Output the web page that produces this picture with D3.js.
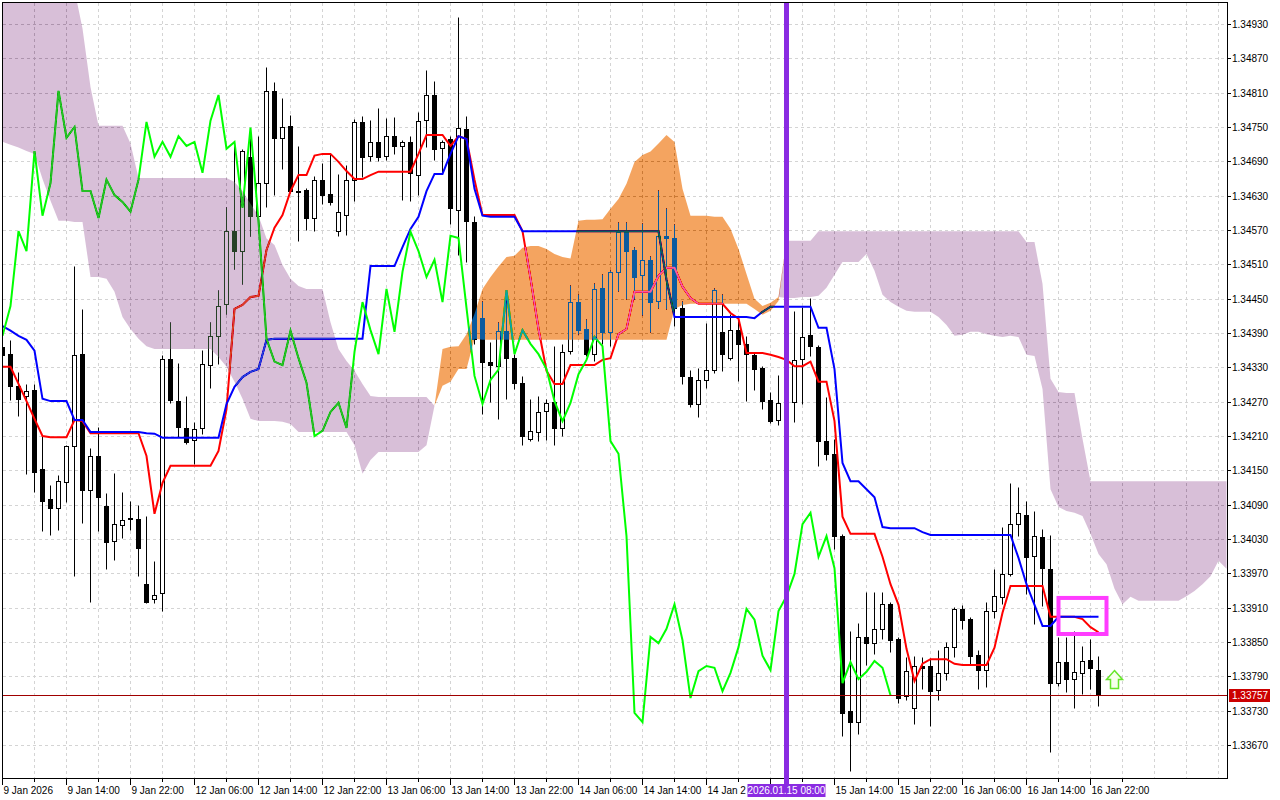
<!DOCTYPE html>
<html><head><meta charset="utf-8">
<script src="https://cdn.jsdelivr.net/npm/d3@7"></script>
<style>html,body{margin:0;padding:0;background:#fff;}svg{display:block;font-family:"Liberation Sans",Arial,sans-serif;}</style>
</head><body>
<svg id="chart" width="1280" height="800"></svg>
<script>
// ---- data (H1 candles, bar 0 = 9 Jan 2026 06:00) ----
const opens = [1.34366,1.34353,1.34297,1.34280,1.34290,1.34152,1.34100,1.34084,1.34130,1.34193,
1.34353,1.34116,1.34175,1.34088,1.34027,1.34055,1.34065,1.34065,1.33951,1.33925,
1.33936,1.34345,1.34271,1.34224,1.34203,1.34224,1.34334,1.34385,1.34441,1.34568,
1.34533,1.34698,1.34595,1.34652,1.34813,1.34731,1.34752,1.34637,1.34640,1.34591,
1.34658,1.34633,1.34568,1.34596,1.34658,1.34759,1.34700,1.34724,1.34700,1.34734,
1.34717,1.34724,1.34666,1.34762,1.34806,1.34714,1.34729,1.34605,1.34747,1.34584,
1.34416,1.34340,1.34332,1.34394,1.34346,1.34303,1.34205,1.34217,1.34254,1.34270,
1.34224,1.34359,1.34444,1.34397,1.34353,1.34469,1.34392,1.34497,1.34567,1.34535,
1.34492,1.34518,1.34446,1.34560,1.34556,1.34434,1.34313,1.34266,1.34308,1.34326,
1.34392,1.34346,1.34395,1.34371,1.34352,1.34329,1.34273,1.34238,1.34268,1.34270,
1.34345,1.34387,1.34366,1.34201,1.34179,1.34035,1.33729,1.33710,1.33859,1.33848,
1.33873,1.33916,1.33855,1.33756,1.33735,1.33808,1.33808,1.33766,1.33796,1.33841,
1.33908,1.33890,1.33827,1.33801,1.33904,1.33929,1.33969,1.34056,1.34072,1.34000,
1.34034,1.33978,1.33778,1.33815,1.33785,1.33796,1.33819,1.33801];
const highs = [1.34388,1.34378,1.34322,1.34301,1.34301,1.34210,1.34124,1.34142,1.34194,1.34507,
1.34432,1.34189,1.34226,1.34110,1.34145,1.34112,1.34096,1.34090,1.34070,1.33992,
1.34352,1.34409,1.34338,1.34280,1.34235,1.34361,1.34409,1.34465,1.34610,1.34724,
1.34712,1.34747,1.34734,1.34855,1.34829,1.34801,1.34771,1.34717,1.34644,1.34665,
1.34687,1.34703,1.34668,1.34684,1.34764,1.34770,1.34762,1.34783,1.34766,1.34768,
1.34727,1.34734,1.34776,1.34850,1.34831,1.34727,1.34734,1.34943,1.34770,1.34595,
1.34446,1.34374,1.34409,1.34450,1.34353,1.34315,1.34275,1.34280,1.34275,1.34367,
1.34371,1.34474,1.34458,1.34415,1.34478,1.34493,1.34500,1.34584,1.34584,1.34540,
1.34582,1.34525,1.34640,1.34609,1.34581,1.34446,1.34326,1.34329,1.34408,1.34469,
1.34458,1.34423,1.34415,1.34385,1.34355,1.34332,1.34287,1.34317,1.34345,1.34429,
1.34436,1.34451,1.34369,1.34278,1.34205,1.34039,1.33869,1.33883,1.33937,1.33937,
1.33937,1.33920,1.33859,1.33824,1.33826,1.33824,1.33822,1.33836,1.33850,1.33911,
1.33915,1.33894,1.33836,1.33920,1.33978,1.34051,1.34128,1.34121,1.34096,1.34079,
1.34048,1.34037,1.33859,1.33859,1.33869,1.33843,1.33855,1.33826];
const lows = [1.34318,1.34273,1.34245,1.34144,1.34112,1.34044,1.34037,1.34046,1.34095,1.33965,
1.34058,1.33920,1.34044,1.33978,1.33993,1.34032,1.34046,1.33965,1.33918,1.33918,
1.33904,1.34268,1.34208,1.34196,1.34161,1.34214,1.34294,1.34336,1.34423,1.34502,
1.34476,1.34560,1.34589,1.34610,1.34631,1.34677,1.34635,1.34551,1.34570,1.34568,
1.34616,1.34614,1.34560,1.34561,1.34621,1.34663,1.34691,1.34691,1.34693,1.34703,
1.34623,1.34621,1.34631,1.34715,1.34693,1.34672,1.34581,1.34527,1.34514,1.34371,
1.34249,1.34270,1.34240,1.34275,1.34292,1.34194,1.34201,1.34201,1.34203,1.34194,
1.34210,1.34353,1.34388,1.34350,1.34341,1.34371,1.34367,1.34464,1.34450,1.34450,
1.34422,1.34392,1.34434,1.34432,1.34402,1.34301,1.34261,1.34243,1.34294,1.34320,
1.34324,1.34343,1.34306,1.34271,1.34290,1.34257,1.34233,1.34229,1.34249,1.34235,
1.34266,1.34350,1.34158,1.34168,1.34013,1.33686,1.33625,1.33689,1.33810,1.33829,
1.33855,1.33833,1.33743,1.33749,1.33707,1.33768,1.33703,1.33749,1.33784,1.33824,
1.33873,1.33812,1.33768,1.33771,1.33892,1.33916,1.33965,1.34035,1.33934,1.33882,
1.33913,1.33658,1.33773,1.33763,1.33735,1.33759,1.33768,1.33738];
const closes = [1.34352,1.34297,1.34275,1.34289,1.34147,1.34096,1.34084,1.34131,1.34193,1.34352,
1.34116,1.34175,1.34103,1.34025,1.34056,1.34063,1.34066,1.34014,1.33920,1.33932,
1.34345,1.34273,1.34226,1.34200,1.34222,1.34336,1.34385,1.34437,1.34568,1.34533,
1.34708,1.34595,1.34652,1.34813,1.34731,1.34750,1.34638,1.34638,1.34591,1.34658,
1.34631,1.34619,1.34602,1.34658,1.34759,1.34698,1.34724,1.34698,1.34734,1.34717,
1.34724,1.34670,1.34761,1.34806,1.34712,1.34724,1.34609,1.34749,1.34586,1.34380,
1.34340,1.34334,1.34394,1.34346,1.34303,1.34210,1.34219,1.34252,1.34268,1.34224,
1.34357,1.34444,1.34395,1.34353,1.34467,1.34392,1.34497,1.34567,1.34533,1.34488,
1.34518,1.34444,1.34560,1.34556,1.34434,1.34315,1.34266,1.34308,1.34326,1.34465,
1.34353,1.34395,1.34371,1.34353,1.34327,1.34271,1.34236,1.34268,1.34318,1.34343,
1.34383,1.34367,1.34201,1.34179,1.34035,1.33726,1.33710,1.33859,1.33848,1.33873,
1.33916,1.33853,1.33752,1.33799,1.33808,1.33805,1.33764,1.33796,1.33841,1.33908,
1.33889,1.33826,1.33801,1.33904,1.33930,1.33969,1.34056,1.34076,1.33999,1.34035,
1.33979,1.33778,1.33815,1.33785,1.33798,1.33817,1.33805,1.33757];
// Ichimoku lines
const tenkan = [1.34331,1.34331,1.34301,1.34271,1.34240,1.34210,1.34208,1.34208,1.34208,1.34238,
1.34236,1.34215,1.34215,1.34215,1.34215,1.34215,1.34215,1.34215,1.34175,1.34074,
1.34128,1.34158,1.34158,1.34158,1.34158,1.34158,1.34158,1.34184,1.34257,1.34432,
1.34439,1.34453,1.34455,1.34535,1.34574,1.34596,1.34638,1.34666,1.34666,1.34700,
1.34703,1.34703,1.34689,1.34673,1.34659,1.34659,1.34666,1.34672,1.34672,1.34672,
1.34672,1.34672,1.34703,1.34736,1.34736,1.34736,1.34717,1.34734,1.34729,1.34658,
1.34596,1.34596,1.34596,1.34596,1.34596,1.34568,1.34486,1.34397,1.34324,1.34301,
1.34301,1.34334,1.34334,1.34334,1.34334,1.34343,1.34346,1.34388,1.34397,1.34462,
1.34462,1.34462,1.34490,1.34504,1.34504,1.34471,1.34451,1.34441,1.34441,1.34441,
1.34441,1.34425,1.34415,1.34355,1.34355,1.34355,1.34352,1.34348,1.34343,1.34332,
1.34332,1.34340,1.34305,1.34305,1.34236,1.34069,1.34039,1.34039,1.34039,1.34039,
1.33999,1.33951,1.33915,1.33838,1.33782,1.33812,1.33820,1.33820,1.33820,1.33812,
1.33810,1.33810,1.33810,1.33810,1.33840,1.33901,1.33948,1.33948,1.33948,1.33948,
1.33948,1.33894,1.33894,1.33894,1.33894,1.33890,1.33876,1.33867];
const kijun = [1.34402,1.34394,1.34385,1.34378,1.34359,1.34275,1.34271,1.34271,1.34271,1.34238,
1.34238,1.34217,1.34217,1.34217,1.34217,1.34217,1.34217,1.34217,1.34215,1.34214,
1.34207,1.34207,1.34207,1.34207,1.34207,1.34207,1.34207,1.34207,1.34266,1.34296,
1.34313,1.34322,1.34327,1.34378,1.34380,1.34380,1.34380,1.34380,1.34380,1.34380,
1.34380,1.34380,1.34380,1.34380,1.34380,1.34380,1.34507,1.34507,1.34507,1.34507,
1.34540,1.34572,1.34593,1.34638,1.34668,1.34668,1.34703,1.34734,1.34729,1.34642,
1.34595,1.34593,1.34593,1.34593,1.34593,1.34568,1.34568,1.34568,1.34568,1.34568,
1.34568,1.34568,1.34568,1.34568,1.34568,1.34568,1.34568,1.34568,1.34568,1.34568,
1.34568,1.34568,1.34568,1.34483,1.34418,1.34418,1.34418,1.34418,1.34418,1.34418,
1.34418,1.34418,1.34418,1.34418,1.34416,1.34427,1.34436,1.34436,1.34436,1.34436,
1.34436,1.34436,1.34399,1.34399,1.34327,1.34163,1.34131,1.34131,1.34117,1.34103,
1.34051,1.34049,1.34049,1.34049,1.34049,1.34042,1.34037,1.34037,1.34037,1.34037,
1.34037,1.34037,1.34037,1.34037,1.34037,1.34037,1.34037,1.33997,1.33951,1.33915,
1.33878,1.33878,1.33894,1.33894,1.33894,1.33894,1.33894,1.33894];
const spanA = [1.34724,1.34719,1.34714,1.34708,1.34703,1.34659,1.34621,1.34586,1.34586,1.34584,
1.34584,1.34488,1.34488,1.34485,1.34462,1.34418,1.34397,1.34380,1.34367,1.34362,
1.34362,1.34362,1.34362,1.34362,1.34362,1.34362,1.34362,1.34348,1.34331,1.34305,
1.34275,1.34240,1.34236,1.34236,1.34236,1.34235,1.34231,1.34217,1.34217,1.34217,
1.34217,1.34217,1.34217,1.34217,1.34194,1.34144,1.34168,1.34182,1.34182,1.34182,
1.34182,1.34182,1.34182,1.34194,1.34263,1.34362,1.34366,1.34367,1.34388,1.34423,
1.34467,1.34488,1.34506,1.34523,1.34525,1.34539,1.34542,1.34542,1.34537,1.34528,
1.34523,1.34520,1.34586,1.34588,1.34588,1.34589,1.34607,1.34624,1.34651,1.34689,
1.34701,1.34707,1.34721,1.34736,1.34724,1.34642,1.34595,1.34595,1.34595,1.34593,
1.34593,1.34572,1.34537,1.34493,1.34450,1.34437,1.34443,1.34453,1.34451,1.34451,
1.34453,1.34453,1.34455,1.34469,1.34492,1.34514,1.34514,1.34514,1.34528,1.34499,
1.34457,1.34444,1.34436,1.34429,1.34427,1.34427,1.34427,1.34418,1.34404,1.34385,
1.34387,1.34392,1.34392,1.34388,1.34385,1.34383,1.34385,1.34383,1.34352,1.34350,
1.34292,1.34117,1.34086,1.34079,1.34076,1.34070,1.34039,1.34004,1.33986,1.33943,
1.33916,1.33929,1.33922,1.33922,1.33922,1.33922,1.33922,1.33922,1.33930,1.33939,
1.33951,1.33965,1.33992,1.33978];
const spanB = [1.34990,1.34990,1.34990,1.34990,1.34990,1.34990,1.34990,1.34990,1.34990,1.34990,
1.34922,1.34820,1.34752,1.34752,1.34752,1.34752,1.34721,1.34661,1.34661,1.34661,
1.34661,1.34661,1.34661,1.34661,1.34661,1.34661,1.34661,1.34661,1.34661,1.34654,
1.34638,1.34616,1.34595,1.34555,1.34544,1.34509,1.34485,1.34472,1.34467,1.34467,
1.34467,1.34409,1.34362,1.34341,1.34324,1.34301,1.34280,1.34278,1.34278,1.34278,
1.34278,1.34278,1.34278,1.34278,1.34263,1.34298,1.34305,1.34327,1.34327,1.34380,
1.34378,1.34378,1.34378,1.34378,1.34378,1.34378,1.34378,1.34378,1.34378,1.34378,
1.34378,1.34378,1.34378,1.34378,1.34378,1.34378,1.34378,1.34378,1.34378,1.34378,
1.34378,1.34378,1.34378,1.34378,1.34432,1.34439,1.34441,1.34441,1.34441,1.34441,
1.34441,1.34441,1.34441,1.34441,1.34432,1.34422,1.34429,1.34446,1.34551,1.34551,
1.34551,1.34551,1.34568,1.34568,1.34568,1.34568,1.34568,1.34568,1.34568,1.34568,
1.34568,1.34568,1.34568,1.34568,1.34568,1.34568,1.34568,1.34568,1.34568,1.34568,
1.34568,1.34568,1.34568,1.34568,1.34568,1.34568,1.34568,1.34568,1.34549,1.34549,
1.34476,1.34310,1.34287,1.34285,1.34285,1.34205,1.34131,1.34131,1.34131,1.34131,
1.34131,1.34131,1.34131,1.34131,1.34131,1.34131,1.34131,1.34131,1.34131,1.34131,
1.34131,1.34131,1.34131,1.34131];
const chikouShift = 26;
const priceTicks = ["1.34930","1.34870","1.34810","1.34750","1.34690","1.34630","1.34570","1.34510","1.34450","1.34390","1.34330","1.34270","1.34210","1.34150","1.34090","1.34030","1.33970","1.33910","1.33850","1.33790","1.33730","1.33670"];
const timeTickBars = [0,8,16,24,32,40,48,56,64,72,80,88,96,104,112,120,128,136];
const timeTickLabels = ["9 Jan 2026","9 Jan 14:00","9 Jan 22:00","12 Jan 06:00","12 Jan 14:00","12 Jan 22:00","13 Jan 06:00","13 Jan 14:00","13 Jan 22:00","14 Jan 06:00","14 Jan 14:00","14 Jan 22:00","15 Jan 06:00","15 Jan 14:00","15 Jan 22:00","16 Jan 06:00","16 Jan 14:00","16 Jan 22:00"];
const currentPrice = 1.33757;
const markerBar = 98, markerLabel = "2026.01.15 08:00";
const boxBars = [132, 138], boxPrices = [1.33927, 1.33864];
const arrowBar = 139, arrowPrice = 1.33800;

// ---- drawing ----
const svg = d3.select("#chart");
const P = {l:3, r:1227, t:3, b:778};
const x = d3.scaleLinear().domain([0, 153]).range([2.5, 2.5 + 8*153]);
const y = d3.scaleLinear().domain([1.33670, 1.34930]).range([745, 24]);
const ry = v => Math.round(y(v)) + 0.5;
const mx = x(markerBar);

svg.append("rect").attr("width",1280).attr("height",800).attr("fill","#fff");
const defs = svg.append("defs");
defs.append("clipPath").attr("id","plotclip").append("rect")
  .attr("x",P.l).attr("y",P.t).attr("width",P.r-P.l).attr("height",P.b-P.t);

const plot = svg.append("g").attr("clip-path","url(#plotclip)");
// white backdrop inside the isolated group so the cloud blend works
plot.append("rect").attr("x",P.l).attr("y",P.t).attr("width",P.r-P.l).attr("height",P.b-P.t).attr("fill","#fff");
// grid
const grid = plot.append("g").attr("stroke","#d4d4d4").attr("stroke-dasharray","3,3").attr("stroke-width",1);
priceTicks.forEach(t => {
  const yy = ry(+t);
  grid.append("line").attr("x1",P.l).attr("x2",P.r).attr("y1",yy).attr("y2",yy);
});
d3.range(4, 154, 4).forEach(i => {
  grid.append("line").attr("x1",x(i)).attr("x2",x(i)).attr("y1",P.t).attr("y2",P.b);
});

// candles
const cg = plot.append("g");
closes.forEach((c,i) => {
  const o = opens[i];
  cg.append("line").attr("x1",x(i)).attr("x2",x(i)).attr("y1",ry(highs[i])).attr("y2",ry(lows[i]))
    .attr("stroke","#000").attr("stroke-width",1);
  const top = Math.min(ry(o), ry(c)), bot = Math.max(ry(o), ry(c));
  if (bot - top < 1) {
    cg.append("line").attr("x1",x(i)-2.5).attr("x2",x(i)+2.5).attr("y1",top).attr("y2",top)
      .attr("stroke","#000").attr("stroke-width",1);
  } else {
    cg.append("rect").attr("x",x(i)-2).attr("y",top).attr("width",4).attr("height",bot-top)
      .attr("fill", c >= o ? "#fff" : "#000").attr("stroke","#000").attr("stroke-width",1);
  }
});

// indicator lines
const line = d3.line().x((d,i)=>x(i)).y(d=>y(d));
plot.append("path").datum(tenkan).attr("d",line).attr("fill","none").attr("stroke","#ff0000").attr("stroke-width",2);
plot.append("path").datum(kijun).attr("d",line).attr("fill","none").attr("stroke","#0000ff").attr("stroke-width",2);
const chikou = closes.slice(chikouShift);
plot.append("path").datum(chikou).attr("d",line).attr("fill","none").attr("stroke","#00ff00").attr("stroke-width",2);

// kumo cloud (XOR-like blend as in the terminal)
const idx = d3.range(spanA.length);
const thistleArea = d3.area().x(i=>x(i)).y0(i=>y(spanA[i])).y1(i=>y(Math.max(spanA[i],spanB[i])));
const orangeArea = d3.area().x(i=>x(i)).y0(i=>y(spanB[i])).y1(i=>y(Math.max(spanA[i],spanB[i])));
plot.append("path").datum(idx).attr("d",thistleArea).attr("fill","#274027").style("mix-blend-mode","difference");
plot.append("path").datum(idx).attr("d",orangeArea).attr("fill","#0b5b9f").style("mix-blend-mode","difference");

// current price line
plot.append("line").attr("x1",P.l).attr("x2",P.r).attr("y1",ry(currentPrice)).attr("y2",ry(currentPrice))
  .attr("stroke","#a00000").attr("stroke-width",1);

// highlight box
plot.append("rect").attr("x",x(boxBars[0])).attr("y",y(boxPrices[0]))
  .attr("width",x(boxBars[1])-x(boxBars[0])).attr("height",y(boxPrices[1])-y(boxPrices[0]))
  .attr("fill","none").attr("stroke","#ff3cff").attr("stroke-width",4);

// arrow marker
const ax = x(arrowBar), ay = y(arrowPrice);
svg.append("path")
  .attr("d",`M${ax},${ay} L${ax+8},${ay+9} L${ax+4},${ay+9} L${ax+4},${ay+18} L${ax-4},${ay+18} L${ax-4},${ay+9} L${ax-8},${ay+9} Z`)
  .attr("fill","#f6ffec").attr("stroke","#66e62a").attr("stroke-width",1.5).attr("stroke-linejoin","miter");

// frame
svg.append("rect").attr("x",2.5).attr("y",2.5).attr("width",1225).attr("height",776)
  .attr("fill","none").attr("stroke","#000").attr("stroke-width",1);

// vertical marker line
svg.append("line").attr("x1",mx).attr("x2",mx).attr("y1",P.t).attr("y2",784)
  .attr("stroke","#8a2be2").attr("stroke-width",5);

// right axis
const ra = svg.append("g").attr("font-size","10px").attr("fill","#000");
priceTicks.forEach(t => {
  const yy = ry(+t);
  ra.append("line").attr("x1",1228).attr("x2",1231).attr("y1",yy).attr("y2",yy).attr("stroke","#000");
  ra.append("text").attr("x",1232).attr("y",yy).attr("dy","0.35em").text(t);
});
// price label
const py = ry(currentPrice);
svg.append("rect").attr("x",1229).attr("y",py-6.5).attr("width",41).attr("height",13).attr("fill","#cc0000");
svg.append("text").attr("x",1232).attr("y",py).attr("dy","0.35em").attr("font-size","10px").attr("fill","#fff").text(currentPrice.toFixed(5));

// bottom axis
const ba = svg.append("g").attr("font-size","10px").attr("fill","#000");
const boxLeft = mx - 39;
timeTickBars.forEach((b,k) => {
  const xx = x(b);
  ba.append("line").attr("x1",xx).attr("x2",xx).attr("y1",779).attr("y2",785).attr("stroke","#000");
  ba.append("line").attr("x1",x(b+4)).attr("x2",x(b+4)).attr("y1",779).attr("y2",782).attr("stroke","#000");
  if (xx >= mx - 40 && xx <= mx + 40) return;
  const t = ba.append("text").attr("x",xx+1).attr("y",794).text(timeTickLabels[k]);
  // the terminal's time marker label hides the end of a label that runs into it
  if (xx < boxLeft) {
    let s = timeTickLabels[k];
    while (s.length > 0 && xx + 1 + t.node().getComputedTextLength() > boxLeft - 1) {
      s = s.slice(0, -1); t.text(s);
    }
  }
});
// marker time label
svg.append("rect").attr("x",boxLeft).attr("y",784).attr("width",78).attr("height",13).attr("fill","#8a2be2");
svg.append("text").attr("x",mx).attr("y",794).attr("text-anchor","middle").attr("font-size","10px").attr("fill","#fff").text(markerLabel);
</script>
</body></html>
